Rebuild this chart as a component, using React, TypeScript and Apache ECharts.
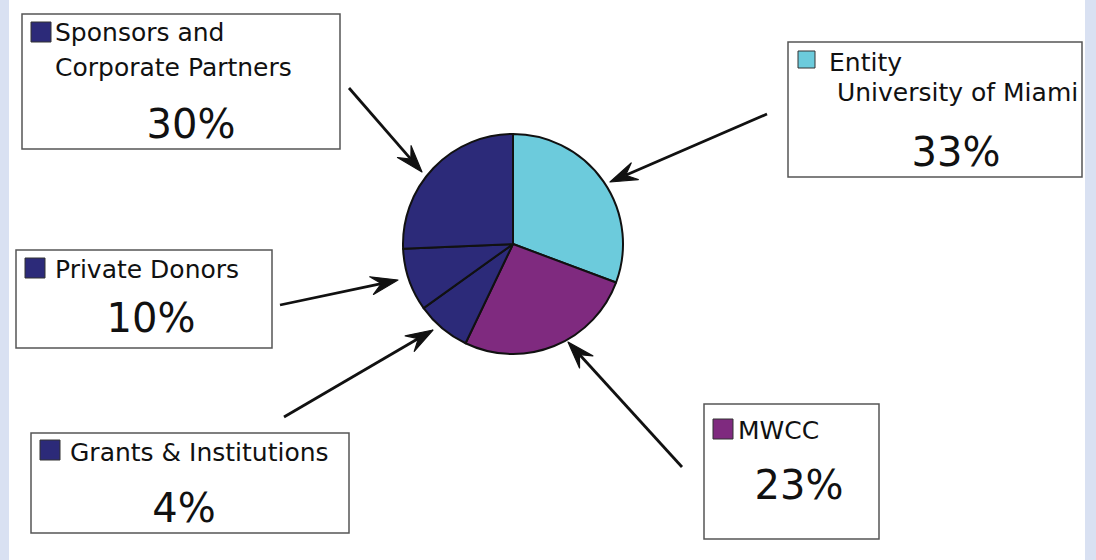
import React, { useEffect, useRef } from "react";
import * as echarts from "echarts";

// ---- data ----
const categories = [
  "Entity University of Miami",
  "MWCC",
  "Grants & Institutions",
  "Private Donors",
  "Sponsors and Corporate Partners",
];
const labelLines = [
  ["Entity", " University of Miami"],
  ["MWCC"],
  ["Grants & Institutions"],
  ["Private Donors"],
  ["Sponsors and", "Corporate Partners"],
];
const labelPercents = [33, 23, 4, 10, 30];
// slice sizes as drawn in the picture (clockwise from 12 o'clock)
const sliceShares = [30.7, 26.4, 8.0, 9.2, 25.7];

// ---- styles / layout ----
const sliceColors = ["#6ccbdc", "#7f2a7f", "#2c2a79", "#2c2a79", "#2c2a79"];
const FONT = "DejaVu Sans";
const PIE_C = [513, 244];
const PIE_R = 110;

const boxes = [
  { x: 788, y: 42, w: 294, h: 135, icon: [798, 51, 17], tx: 829, lineY: [62, 92], px: 956, py: 152 },
  { x: 704, y: 404, w: 175, h: 135, icon: [713, 419, 20], tx: 738, lineY: [430], px: 799, py: 485 },
  { x: 31, y: 433, w: 318, h: 100, icon: [40, 440, 20], tx: 70, lineY: [452], px: 184, py: 508 },
  { x: 16, y: 250, w: 256, h: 98, icon: [25, 258, 20], tx: 55, lineY: [269], px: 151, py: 318 },
  { x: 22, y: 14, w: 318, h: 135, icon: [31, 22, 20], tx: 55, lineY: [32, 67], px: 191, py: 124 },
];

const arrows = [
  { from: [767, 114], to: [610, 182] },
  { from: [682, 467], to: [568, 342] },
  { from: [284, 417], to: [433, 330] },
  { from: [280, 305], to: [398, 280] },
  { from: [349, 88], to: [422, 172] },
];

function arrowElements(from: number[], to: number[]) {
  const dx = to[0] - from[0];
  const dy = to[1] - from[1];
  const len = Math.hypot(dx, dy);
  const ux = dx / len;
  const uy = dy / len;
  const nx = -uy;
  const ny = ux;
  const L = 27;
  const W = 9;
  const N = 17;
  const tip = to;
  const b1 = [tip[0] - L * ux + W * nx, tip[1] - L * uy + W * ny];
  const b2 = [tip[0] - L * ux - W * nx, tip[1] - L * uy - W * ny];
  const notch = [tip[0] - N * ux, tip[1] - N * uy];
  return [
    {
      type: "line",
      shape: { x1: from[0], y1: from[1], x2: notch[0], y2: notch[1] },
      style: { stroke: "#111", lineWidth: 2.8 },
      silent: true,
    },
    {
      type: "polygon",
      shape: { points: [tip, b1, notch, b2] },
      style: { fill: "#111", stroke: "#111", lineWidth: 1.2, lineJoin: "round" },
      silent: true,
    },
  ];
}

export default function App() {
  const ref = useRef<HTMLDivElement>(null);

  useEffect(() => {
    if (!ref.current) return;
    const chart = echarts.init(ref.current, undefined, { renderer: "svg" });

    const graphics: any[] = [
      { type: "rect", shape: { x: 0, y: 0, width: 9, height: 560 }, style: { fill: "#d9e1f2" }, silent: true },
      { type: "rect", shape: { x: 1085, y: 0, width: 11, height: 560 }, style: { fill: "#d9e1f2" }, silent: true },
    ];

    categories.forEach((_, i) => {
      const b = boxes[i];
      graphics.push({
        type: "rect",
        shape: { x: b.x, y: b.y, width: b.w, height: b.h },
        style: { fill: "#ffffff", stroke: "#555555", lineWidth: 1.5 },
        silent: true,
      });
      graphics.push({
        type: "rect",
        shape: { x: b.icon[0], y: b.icon[1], width: b.icon[2], height: b.icon[2] },
        style: { fill: sliceColors[i], stroke: "#333", lineWidth: 1 },
        silent: true,
      });
      labelLines[i].forEach((ln, j) => {
        graphics.push({
          type: "text",
          x: b.tx,
          y: b.lineY[j],
          style: {
            text: ln,
            font: `25px "${FONT}"`,
            fill: "#111111",
            align: "left",
            verticalAlign: "middle",
          },
          silent: true,
        });
      });
      graphics.push({
        type: "text",
        x: b.px,
        y: b.py,
        style: {
          text: `${labelPercents[i]}%`,
          font: `40px "${FONT}"`,
          fill: "#111111",
          align: "center",
          verticalAlign: "middle",
        },
        silent: true,
      });
    });

    arrows.forEach((a) => graphics.push(...arrowElements(a.from, a.to)));

    chart.setOption({
      animation: false,
      backgroundColor: "#ffffff",
      series: [
        {
          type: "pie",
          center: PIE_C,
          radius: PIE_R,
          startAngle: 90,
          clockwise: true,
          label: { show: false },
          labelLine: { show: false },
          emphasis: { disabled: true },
          itemStyle: { borderColor: "#111", borderWidth: 2 },
          data: categories.map((name, i) => ({
            name,
            value: sliceShares[i],
            itemStyle: { color: sliceColors[i] },
          })),
          z: 2,
        },
      ],
      graphic: graphics,
    });

    return () => chart.dispose();
  }, []);

  return (
    <div
      ref={ref}
      style={{ position: "absolute", left: 0, top: 0, width: 1096, height: 560 }}
    />
  );
}
